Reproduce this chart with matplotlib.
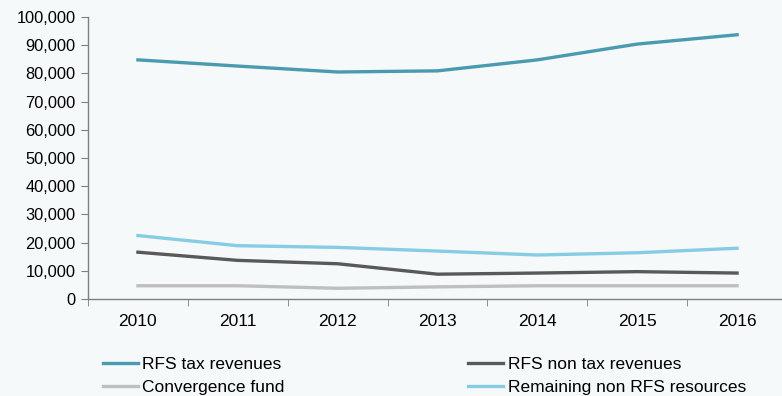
# Regional finance resources 2010-2016, line chart with legend below
import matplotlib.pyplot as plt

plt.rcParams['font.family'] = ['Liberation Sans', 'DejaVu Sans']

years = ["2010", "2011", "2012", "2013", "2014", "2015", "2016"]
rfs_tax = [84800, 82600, 80500, 80900, 84800, 90400, 93700]
rfs_non_tax = [16600, 13700, 12500, 8800, 9200, 9700, 9200]
convergence = [4700, 4700, 3800, 4300, 4700, 4700, 4700]
remaining = [22500, 18900, 18300, 17000, 15600, 16400, 18000]

bg = "#f5f9fa"
axis_col = "#7f7f7f"

fig = plt.figure(figsize=(7.82, 3.96), dpi=100, facecolor=bg)
ax = fig.add_axes([88 / 782, 97 / 396, 694 / 782, 282 / 396], facecolor=bg)

x = range(len(years))
l1, = ax.plot(x, rfs_tax, color="#4a9bb0", lw=2.4, label="RFS tax revenues")
l2, = ax.plot(x, rfs_non_tax, color="#595959", lw=2.4, label="RFS non tax revenues")
l3, = ax.plot(x, convergence, color="#bfbfbf", lw=2.4, label="Convergence fund")
l4, = ax.plot(x, remaining, color="#86cde4", lw=2.4, label="Remaining non RFS resources")

ax.set_xlim(-0.5, 6.45)
ax.set_ylim(0, 100000)
ax.set_yticks(range(0, 100001, 10000))
ax.set_yticklabels([f"{v:,}" for v in range(0, 100001, 10000)])

# category labels centred, tick marks between categories
ax.set_xticks(list(x))
ax.set_xticklabels(years)
ax.tick_params(axis="x", which="major", length=0, pad=11, labelsize=12.5)
ax.set_xticks([i - 0.5 for i in range(len(years))], minor=True)
ax.tick_params(axis="x", which="minor", length=5, color=axis_col, direction="out")
ax.tick_params(axis="y", length=5, color=axis_col, labelsize=11.8, pad=4)

for s in ["top", "right"]:
    ax.spines[s].set_visible(False)
for s in ["left", "bottom"]:
    ax.spines[s].set_color(axis_col)
    ax.spines[s].set_linewidth(1)

fig.legend([l1, l3, l2, l4],
           [l1.get_label(), l3.get_label(), l2.get_label(), l4.get_label()],
           ncol=2, loc="upper left", bbox_to_anchor=(103 / 782, 1 - 357 / 396),
           frameon=False, fontsize=12.5, handlelength=2.0, handletextpad=0.25,
           columnspacing=10.6, labelspacing=0.45, borderaxespad=0,
           borderpad=0)

fig.savefig("out.png", dpi=100, facecolor=bg)
